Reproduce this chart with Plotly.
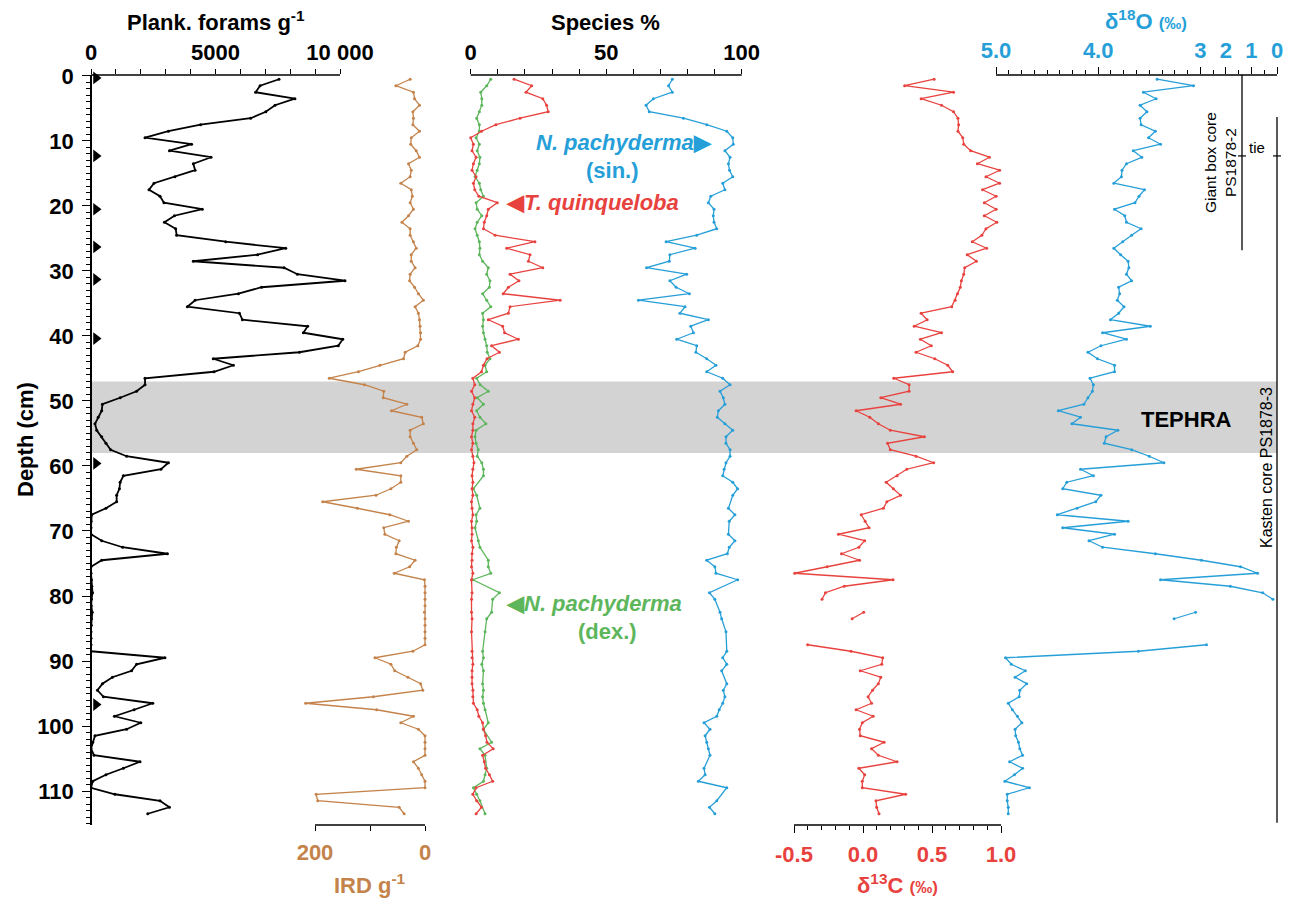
import plotly.graph_objects as go

# ------------------------------------------------------------------ data
plank_depth = [0.5, 1.5, 2.5, 3.5, 4.5, 5.5, 6.5, 7.5, 8.5, 9.5,
               10.5, 11.5, 12.5, 13.5, 14.5, 15.5, 16.5, 17.5, 18.5, 19.5,
               20.5, 21.5, 22.5, 23.5, 24.5, 25.5, 26.5, 27.5, 28.5, 29.5,
               30.5, 31.5, 32.5, 33.5, 34.5, 35.5, 36.5, 37.5, 38.5, 39.5,
               40.5, 41.5, 42.5, 43.5, 44.5, 45.5, 46.5, 47.5, 48.5, 49.5,
               50.5, 51.5, 52.5, 53.5, 54.5, 55.5, 56.5, 57.5, 58.5, 59.5,
               60.5, 61.5, 62.5, 63.5, 64.5, 65.5, 66.5, 67.5, 68.5, 69.5,
               70.5, 71.5, 72.5, 73.5, 74.5, 75.5, 76.5, 77.5, 78.5, 79.5,
               80.5, 81.5, 82.5, 83.5, 84.5, 85.5, 86.5, 87.5, 88.5, 89.5,
               90.5, 91.5, 92.5, 93.5, 94.5, 95.5, 96.5, 97.5, 98.5, 99.5,
               100.5, 101.5, 102.5, 103.5, 104.5, 105.5, 106.5, 107.5, 108.5, 109.5,
               110.5, 111.5, 112.5, 113.5]

plank_forams = [7550, 6790, 6610, 8190, 7390, 7020, 6410, 4400, 3110, 2170,
                4040, 3150, 4820, 4110, 4180, 3370, 2530, 2330, 2770, 2930,
                4470, 3350, 2950, 3400, 3440, 5410, 7820, 6690, 4110, 7750,
                8290, 10200, 6850, 5920, 4180, 3870, 5960, 6080, 8700, 8530,
                10110, 9930, 8370, 4910, 5720, 4940, 2170, 2170, 1830, 1170,
                460, 430, 290, 160, 230, 430, 600, 790, 1430, 3110,
                2810, 1300, 1170, 1140, 1030, 1030, 600, 30, 0, 0,
                0, 430, 1270, 3070, 430, 0, 0, 20, 30, 60,
                20, 10, 50, 20, 10, 0, 0, 0, 0, 2970,
                1830, 1630, 860, 460, 260, 500, 2480, 1730, 940, 2000,
                1430, 160, 70, 0, 120, 1970, 1300, 600, 70, 0,
                960, 2770, 3150, 2280]

ird = [27, 53, 21, 19, 10, 22, 21, 22, 10, 25,
       26, 16, 10, 30, 25, 27, 44, 25, 23, 27,
       21, 30, 42, 27, 27, 21, 16, 25, 25, 18,
       27, 28, 19, 12, 3, 18, 12, 10, 9, 8,
       8, 13, 36, 39, 82, 121, 174, 110, 75, 76,
       33, 61, 6, 3, 27, 27, 21, 15, 33, 44,
       125, 44, 44, 62, 89, 186, 123, 64, 30, 75,
       73, 47, 52, 53, 18, 28, 56, 1, 0, 0,
       0, 0, 1, 0, 0, 0, 0, 0, 22, 91,
       62, 55, 31, 8, 4, 94, 217, 88, 21, 44,
       12, 0, 0, 0, 0, 21, 12, 6, 0, 0,
       198, 195, 47, 38]

# N. pachyderma (sin.)
sin_depth = [0.5, 1.5, 2.5, 3.5, 4.5, 5.5, 6.5, 7.5, 8.5, 9.5,
             10.5, 11.5, 12.5, 13.5, 14.5, 15.5, 16.5, 17.5, 18.5, 19.5,
             20.5, 21.5, 22.5, 23.5, 24.5, 25.5, 26.5, 27.5, 28.5, 29.5,
             30.5, 31.5, 32.5, 33.5, 34.5, 35.5, 36.5, 37.5, 38.5, 39.5,
             40.5, 41.5, 42.5, 43.5, 44.5, 45.5, 46.5, 47.5, 48.5, 49.5,
             50.5, 51.5, 52.5, 53.5, 54.5, 55.5, 56.5, 57.5, 58.5, 59.5,
             60.5, 61.5, 62.5, 63.5, 64.5, 66.5, 67.5, 68.5, 70.5, 71.5,
             72.5, 73.5, 74.5, 75.5, 76.5, 77.5, 79.5, 80.5, 82.5, 83.5,
             85.5, 88.5, 89.5, 90.5, 91.5, 93.5, 94.5, 95.5, 96.5, 97.5,
             98.5, 99.5, 100.5, 101.5, 102.5, 103.5, 104.5, 106.5, 107.5, 108.5,
             109.5, 111.5, 112.5, 113.5]
sin_pct = [74.4, 73.0, 74.4, 67.4, 64.7, 65.9, 78.5, 87.1, 94.5, 96.7,
           96.9, 93.8, 95.7, 95.1, 95.5, 96.7, 93.0, 93.8, 88.6, 87.7,
           89.8, 89.5, 89.8, 90.8, 83.4, 72.1, 82.8, 73.5, 73.3, 64.9,
           79.7, 73.5, 75.8, 80.7, 61.9, 79.1, 77.2, 87.7, 81.2, 82.2,
           76.0, 83.4, 83.1, 87.1, 90.5, 87.1, 93.0, 95.7, 92.0, 93.2,
           93.8, 91.4, 91.0, 93.8, 96.7, 94.2, 94.2, 95.7, 95.7, 94.2,
           93.5, 93.0, 96.7, 98.5, 96.7, 95.1, 97.5, 95.4, 95.1, 97.5,
           95.4, 94.7, 87.1, 90.1, 90.5, 98.5, 88.1, 90.1, 92.0, 92.6,
           94.2, 94.5, 93.0, 94.5, 92.6, 94.5, 93.2, 93.8, 93.0, 91.7,
           90.8, 86.1, 88.3, 86.5, 87.1, 87.7, 88.3, 86.1, 86.5, 84.0,
           94.5, 90.8, 88.1, 90.1]

# T. quinqueloba
tq_depth = [0.5, 1.5, 2.5, 3.5, 4.5, 5.5, 6.5, 7.5, 8.5, 9.5,
            10.5, 11.5, 12.5, 13.5, 14.5, 15.5, 16.5, 17.5, 18.5, 19.5,
            20.5, 21.5, 22.5, 23.5, 24.5, 25.5, 26.5, 27.5, 28.5, 29.5,
            30.5, 31.5, 32.5, 33.5, 34.5, 35.5, 36.5, 37.5, 38.5, 39.5,
            40.5, 41.5, 42.5, 43.5, 44.5, 45.5, 46.5, 47.5, 48.5, 49.5,
            50.5, 51.5, 52.5, 53.5, 54.5, 55.5, 56.5, 57.5, 58.5, 59.5,
            60.5, 61.5, 62.5, 63.5, 64.5, 65.5, 66.5, 67.5, 68.5, 69.5,
            70.5, 71.5, 72.5, 73.5, 74.5, 75.5, 76.5, 77.5, 79.5, 80.5,
            82.5, 83.5, 85.5, 88.5, 89.5, 90.5, 91.5, 92.5, 93.5, 94.5,
            95.5, 96.5, 97.5, 98.5, 99.5, 100.5, 101.5, 102.5, 103.5, 104.5,
            105.5, 106.5, 107.5, 108.5, 109.5, 110.5, 111.5, 112.5, 113.5]
tq_pct = [16.0, 22.5, 20.4, 26.6, 28.0, 28.6, 18.2, 9.3, 4.0, 0.0,
          1.0, 0.5, 2.0, 1.0, 0.5, 2.0, 1.0, 1.5, 3.0, 9.8,
          6.5, 5.9, 5.0, 4.7, 9.0, 23.7, 13.3, 21.9, 21.3, 26.6,
          14.5, 17.8, 13.9, 12.0, 33.0, 14.5, 13.9, 6.5, 11.8, 12.5,
          17.6, 7.7, 10.6, 6.0, 4.7, 4.0, 0.8, 1.5, 0.3, 1.5,
          0.8, 0.3, 1.5, 0.8, 0.8, 0.3, 0.8, 0.3, 0.8, 1.2,
          0.8, 0.5, 0.8, 0.5, 0.8, 0.3, 0.5, 0.8, 0.3, 0.5,
          0.5, 0.3, 0.8, 0.5, 0.5, 0.3, 0.8, 0.3, 0.5, 0.3,
          0.3, 0.5, 0.3, 0.5, 0.5, 0.8, 0.5, 0.5, 0.5, 0.8,
          0.8, 1.0, 2.4, 3.0, 4.4, 4.7, 5.5, 6.0, 8.3, 4.4,
          5.0, 5.5, 6.9, 8.1, 2.0, 0.8, 2.2, 4.0, 2.0]

# N. pachyderma (dex.)
dex_depth = [0.5, 1.5, 2.5, 3.5, 4.5, 5.5, 6.5, 7.5, 8.5, 9.5,
             10.5, 11.5, 12.5, 13.5, 14.5, 15.5, 16.5, 17.5, 18.5, 19.5,
             20.5, 21.5, 22.5, 23.5, 24.5, 25.5, 26.5, 27.5, 28.5, 29.5,
             30.5, 31.5, 32.5, 33.5, 34.5, 35.5, 36.5, 37.5, 38.5, 39.5,
             40.5, 41.5, 42.5, 43.5, 44.5, 45.5, 46.5, 47.5, 48.5, 49.5,
             50.5, 51.5, 52.5, 53.5, 54.5, 55.5, 56.5, 57.5, 58.5, 59.5,
             60.5, 61.5, 63.5, 64.5, 66.5, 67.5, 68.5, 69.5, 71.5, 72.5,
             74.5, 75.5, 76.5, 77.5, 79.5, 80.5, 82.5, 83.5, 85.5, 88.5,
             89.5, 90.5, 91.5, 93.5, 94.5, 95.5, 96.5, 97.5, 99.5, 100.5,
             102.5, 103.5, 104.5, 106.5, 107.5, 108.5, 109.5, 110.5, 111.5, 113.5]
dex_pct = [7.4, 5.9, 3.7, 4.1, 4.1, 3.2, 2.2, 3.2, 3.2, 2.0,
           3.2, 2.4, 3.4, 3.2, 2.4, 1.6, 3.2, 3.7, 4.7, 2.0,
           2.4, 4.1, 2.4, 1.6, 2.4, 3.2, 3.4, 3.2, 4.4, 6.5,
           5.9, 7.1, 6.9, 4.4, 5.9, 7.4, 4.4, 4.7, 4.4, 4.7,
           5.3, 5.9, 6.1, 7.1, 5.3, 5.9, 2.2, 3.5, 6.5, 2.4,
           4.7, 2.2, 3.4, 5.6, 2.0, 1.6, 2.0, 2.8, 2.4, 4.1,
           4.7, 4.7, 1.0, 2.2, 3.4, 2.0, 2.2, 1.6, 2.8, 3.4,
           6.5, 6.5, 7.4, 0.8, 10.6, 8.1, 7.7, 5.9, 5.3, 4.4,
           4.7, 4.1, 4.7, 4.4, 4.7, 4.4, 4.7, 5.3, 6.5, 4.7,
           7.7, 3.4, 5.3, 5.9, 5.3, 4.7, 1.0, 2.2, 3.4, 5.3]

# stable isotopes (None = no sample, line interrupted)
iso_depth = [0.5, 1.5, 2.5, 3.5, 4.5, 5.5, 6.5, 7.5, 8.5, 9.5,
             10.5, 11.5, 12.5, 13.5, 14.5, 15.5, 16.5, 17.5, 18.5, 19.5,
             20.5, 21.5, 22.5, 23.5, 24.5, 25.5, 26.5, 27.5, 28.5, 29.5,
             30.5, 31.5, 32.5, 33.5, 34.5, 35.5, 36.5, 37.5, 38.5, 39.5,
             40.5, 41.5, 42.5, 43.5, 44.5, 45.5, 46.5, 47.5, 48.5, 49.5,
             50.5, 51.5, 52.5, 53.5, 54.5, 55.5, 56.5, 57.5, 58.5, 59.5,
             60.5, 61.5, 62.5, 63.5, 64.5, 65.5, 66.5, 67.5, 68.5, 69.5,
             70.5, 71.5, 72.5, 73.5, 74.5, 75.5, 76.5, 77.5, 78.5, 79.5,
             80.5, 81.5, 82.5, 83.5, 84.5, 87.5, 88.5, 89.5,
             90.5, 91.5, 92.5, 93.5, 94.5, 95.5, 96.5, 97.5, 98.5, 99.5,
             100.5, 101.5, 102.5, 103.5, 104.5, 105.5, 106.5, 107.5, 108.5, 109.5,
             110.5, 111.5, 112.5, 113.5]
d13c = [0.515, 0.302, 0.656, 0.421, 0.569, 0.656, 0.688, 0.693, 0.688, 0.723,
        0.730, 0.780, 0.916, 0.829, 0.990, 0.891, 0.990, 0.866, 0.965, 0.879,
        0.965, 0.879, 0.970, 0.891, 0.861, 0.792, 0.896, 0.755, 0.822, 0.737,
        0.730, 0.713, 0.705, 0.685, 0.668, 0.643, 0.421, 0.465, 0.371, 0.569,
        0.416, 0.495, 0.384, 0.520, 0.614, 0.650, 0.223, 0.334, 0.334, 0.129,
        0.272, -0.050, 0.049, 0.111, 0.198, 0.445, 0.178, 0.198, 0.384, 0.512,
        0.317, 0.247, 0.168, 0.220, 0.272, 0.173, 0.148, -0.013, 0.015, 0.044,
        -0.178, 0.012, -0.030, -0.156, -0.025, -0.260, -0.495, 0.218, -0.136, -0.272,
        -0.297, None, 0.005, -0.079, None, -0.401, -0.087, 0.143,
        0.136, -0.020, 0.129, 0.111, 0.069, 0.037, 0.062, -0.050, 0.074, -0.005,
        -0.025, -0.020, 0.153, 0.062, 0.111, 0.247, -0.030, 0.012, -0.005, -0.005,
        0.309, 0.094, 0.099, 0.116]
d18o = [3.423, 3.067, 3.557, 3.433, 3.590, 3.523, 3.590, 3.580, 3.440, 3.507,
        3.390, 3.657, 3.573, 3.723, 3.767, 3.773, 3.847, 3.547, 3.600, 3.640,
        3.840, 3.740, 3.723, 3.580, 3.673, 3.760, 3.847, 3.780, 3.707, 3.700,
        3.723, 3.673, 3.800, 3.790, 3.813, 3.747, 3.800, 3.880, 3.490, 3.957,
        3.723, 3.973, 4.100, 4.007, 3.840, 3.840, 4.080, 4.047, 4.057, 4.100,
        4.140, 4.390, 4.173, 4.257, 3.807, 3.923, 3.940, 3.673, 3.500, 3.357,
        4.173, 4.047, 4.307, 4.347, 3.973, 4.023, 4.207, 4.400, 3.707, 4.347,
        3.840, 4.090, 3.957, 3.440, 2.990, 2.607, 2.440, 3.390, 2.707, 2.390,
        2.290, None, 3.047, 3.257, None, 2.940, 3.607, 4.907,
        4.850, 4.713, 4.813, 4.700, 4.767, 4.773, 4.880, 4.840, 4.790, 4.747,
        4.813, 4.807, 4.780, 4.767, 4.740, 4.867, 4.740, 4.820, 4.913, 4.673,
        4.890, 4.890, 4.880, 4.880]

ams_depth = [0.3, 12.3, 20.5, 26.3, 31.3, 40.4, 59.6, 96.7]   # black triangles
tephra_top, tephra_base = 47, 58
giant_box_base = 26.8
kasten_top, kasten_base = 6.3, 114.9
tie_depth = 12.3

plank_ticks = [0, 5000, 10000]
plank_ticklabels = ["0", "5000", "10 000"]
ird_ticks = [200, 0]
ird_ticklabels = ["200", "0"]
species_ticks = [0, 50, 100]
species_ticklabels = ["0", "50", "100"]
d13c_ticks = [-0.5, 0.0, 0.5, 1.0]
d13c_ticklabels = ["-0.5", "0.0", "0.5", "1.0"]
d18o_ticks = [5.0, 4.0, 3.0, 2.75, 2.5, 2.25]
d18o_ticklabels = ["5.0", "4.0", "3", "2", "1", "0"]
depth_ticks = [0, 10, 20, 30, 40, 50, 60, 70, 80, 90, 100, 110]
DEPTH_TOP, DEPTH_BOTTOM = -0.15, 115.23

# ------------------------------------------------------------------ style
FONT = "Liberation Sans, Arial, Helvetica, sans-serif"
BLACK = "#000000"
BROWN = "#c4834b"
RED = "#e8423e"
GREEN = "#5db65b"
BLUE = "#269fd8"
GREY = "#d3d3d3"

W, H = 1295, 903
PL, PR, PT, PB = 91, 1280, 75, 825


def fx(px):
    return (px - PL) / (PR - PL)


def fy(py):
    return (PB - py) / (PB - PT)


def fdepth(d):
    return (DEPTH_BOTTOM - d) / (DEPTH_BOTTOM - DEPTH_TOP)


# axis scales: value v0 sits at pixel p0, ppu pixels per unit, sign = direction
SC = {
    "plank": dict(v0=0, p0=91, ppu=249 / 10000, sign=1, dom=(91, 352)),
    "ird": dict(v0=0, p0=425, ppu=0.55, sign=-1, dom=(300, 432)),
    "species": dict(v0=0, p0=470.7, ppu=2.71, sign=1, dom=(465, 760)),
    "d13c": dict(v0=-0.5, p0=794, ppu=138, sign=1, dom=(785, 1010)),
    "d18o": dict(v0=5.0, p0=996, ppu=281 / 2.75, sign=-1, dom=(990, 1280)),
}


def val_at(s, px):
    return s["v0"] + s["sign"] * (px - s["p0"]) / s["ppu"]


def px_at(s, v):
    return s["p0"] + s["sign"] * (v - s["v0"]) * s["ppu"]


def xaxis_cfg(key, side, tickvals, ticktext, color, minor_dtick, minor_tick0,
              ticklen=5, minor_len=5):
    s = SC[key]
    return dict(
        domain=[fx(s["dom"][0]), fx(s["dom"][1])],
        range=[val_at(s, s["dom"][0]), val_at(s, s["dom"][1])],
        side=side, anchor="y", showline=False, showgrid=False, zeroline=False,
        automargin=False,
        ticks="outside", ticklen=ticklen, tickwidth=1.4, tickcolor=BLACK,
        tickvals=tickvals,
        ticktext=["<b>%s</b>" % t for t in ticktext],
        tickfont=dict(family=FONT, size=22, color=color),
        tickangle=0, ticklabelstandoff=(0 if side == "top" else 3),
        minor=dict(ticks="outside", ticklen=minor_len, tickwidth=1.2,
                   tickcolor=BLACK, tick0=minor_tick0, dtick=minor_dtick,
                   showgrid=False),
    )


fig = go.Figure()


def line_trace(x, y, axis, color, width=1.3, msize=3):
    return go.Scatter(x=x, y=y, xaxis=axis, yaxis="y", mode="lines+markers",
                      line=dict(color=color, width=width),
                      marker=dict(color=color, size=msize),
                      connectgaps=False, showlegend=False, hoverinfo="x+y")


fig.add_trace(line_trace(plank_forams, plank_depth, "x", BLACK, 1.8, 3))
fig.add_trace(go.Scatter(x=[val_at(SC["plank"], 96)] * len(ams_depth), y=ams_depth,
                         xaxis="x", yaxis="y", mode="markers", cliponaxis=False,
                         marker=dict(symbol="triangle-right", size=11, color=BLACK),
                         showlegend=False, hoverinfo="y"))
fig.add_trace(line_trace(ird, plank_depth, "x2", BROWN))
fig.add_trace(line_trace(dex_pct, dex_depth, "x3", GREEN))
fig.add_trace(line_trace(tq_pct, tq_depth, "x3", RED))
fig.add_trace(line_trace(sin_pct, sin_depth, "x3", BLUE))
fig.add_trace(line_trace(d13c, iso_depth, "x4", RED))
fig.add_trace(line_trace(d18o, iso_depth, "x5", BLUE))

# ---------------------------------------------------------------- shapes
shapes = []
shapes.append(dict(type="rect", xref="paper", yref="paper", x0=0, x1=fx(1277),
                   y0=fdepth(tephra_base), y1=fdepth(tephra_top), fillcolor=GREY,
                   line=dict(width=0), layer="below"))


def hline(key, v0, v1, ypaper):
    s = SC[key]
    return dict(type="line", xref="paper", yref="paper",
                x0=fx(px_at(s, v0)), x1=fx(px_at(s, v1)), y0=ypaper, y1=ypaper,
                line=dict(color=BLACK, width=1.5))


shapes.append(hline("plank", plank_ticks[0], plank_ticks[-1], 1))
shapes.append(hline("species", species_ticks[0], species_ticks[-1], 1))
shapes.append(hline("d18o", d18o_ticks[0], d18o_ticks[-1], 1))
shapes.append(hline("ird", ird_ticks[0], ird_ticks[-1], 0))
shapes.append(hline("d13c", d13c_ticks[0], d13c_ticks[-1], 0))

# core bars on the right
GB_X, KA_X = 1242, 1277


def vbar(px, d0, d1):
    return dict(type="line", xref="paper", yref="paper", x0=fx(px), x1=fx(px),
                y0=fdepth(d0), y1=fdepth(d1), line=dict(color=BLACK, width=1.3))


shapes.append(vbar(GB_X, DEPTH_TOP, giant_box_base))
shapes.append(vbar(KA_X, kasten_top, kasten_base))
for cx in (GB_X, KA_X):
    shapes.append(dict(type="line", xref="paper", yref="paper", x0=fx(cx - 4), x1=fx(cx + 4),
                       y0=fdepth(tie_depth), y1=fdepth(tie_depth),
                       line=dict(color=BLACK, width=1.2)))

# ---------------------------------------------------------------- annotations
ann = []


def add_text(text, px, py, size=22, color=BLACK, angle=0, xanchor="center"):
    ann.append(dict(text=text, xref="paper", yref="paper", x=fx(px), y=fy(py),
                    xanchor=xanchor, yanchor="middle", showarrow=False,
                    textangle=angle, font=dict(family=FONT, size=size, color=color)))


add_text("<b>Plank. forams g<sup>-1</sup></b>", 216, 21)
add_text("<b>Species %</b>", 605, 22)
add_text("<b>δ<sup>18</sup>O <span style='font-size:17px'>(‰)</span></b>", 1146, 20, color=BLUE)
add_text("<b>IRD g<sup>-1</sup></b>", 370, 884, color=BROWN)
add_text("<b>δ<sup>13</sup>C <span style='font-size:17px'>(‰)</span></b>", 897, 884, color=RED)
add_text("<b>Depth (cm)</b>", 25, 440, size=22, angle=-90)
add_text("<b><i>N. pachyderma</i>▶</b>", 624, 142, color=BLUE)
add_text("<b>(sin.)</b>", 612, 170, color=BLUE)
add_text("<b>◀<i>T. quinqueloba</i></b>", 592, 203, color=RED)
add_text("<b>◀<i>N. pachyderma</i></b>", 594, 603, color=GREEN)
add_text("<b>(dex.)</b>", 607, 632, color=GREEN)
add_text("<b>TEPHRA</b>", 1186, 419)
add_text("tie", 1257, 147, size=15)
add_text("Giant box core<br>PS1878-2", 1221, 163, size=15.5, angle=-90)
add_text("Kasten core PS1878-3", 1266, 468, size=16, angle=-90)

fig.update_layout(
    width=W, height=H,
    margin=dict(l=PL, r=W - PR, t=PT, b=H - PB, pad=0, autoexpand=False),
    paper_bgcolor="white", plot_bgcolor="rgba(0,0,0,0)",
    showlegend=False,
    font=dict(family=FONT, color=BLACK),
    xaxis=xaxis_cfg("plank", "top", plank_ticks, plank_ticklabels, BLACK, 1000, 0),
    xaxis2=xaxis_cfg("ird", "bottom", ird_ticks, ird_ticklabels, BROWN, 100, 0),
    xaxis3=xaxis_cfg("species", "top", species_ticks, species_ticklabels, BLACK, 10, 0),
    xaxis4=xaxis_cfg("d13c", "bottom", d13c_ticks, d13c_ticklabels, RED, 0.1, -0.5, 7, 4),
    xaxis5=xaxis_cfg("d18o", "top", d18o_ticks, d18o_ticklabels, BLUE, 0.125, 5.0, 7, 4),
    yaxis=dict(
        domain=[0, 1], range=[DEPTH_BOTTOM, DEPTH_TOP], anchor="free", position=0,
        automargin=False,
        showline=True, linecolor=BLACK, linewidth=1.5, showgrid=False, zeroline=False,
        ticks="outside", ticklen=8, tickwidth=1.4, tickcolor=BLACK,
        tickvals=depth_ticks, ticktext=["<b>%d</b>" % t for t in depth_ticks],
        tickfont=dict(family=FONT, size=22, color=BLACK), ticklabelstandoff=4,
        minor=dict(ticks="outside", ticklen=4, tickwidth=1.2, tickcolor=BLACK,
                   dtick=1, tick0=0, showgrid=False),
    ),
    shapes=shapes,
    annotations=ann,
)

fig.write_html("out.html",
               config={"displayModeBar": False},
               post_script="document.body.style.margin='0';"
                           "document.body.style.padding='0';"
                           "document.body.style.overflow='hidden';")
